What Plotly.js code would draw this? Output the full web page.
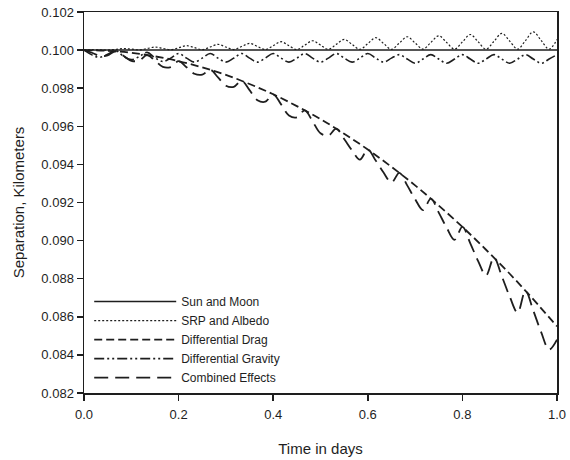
<!DOCTYPE html>
<html>
<head>
<meta charset="utf-8">
<script src="https://cdn.plot.ly/plotly-3.0.1.min.js"></script>
<style>html,body{margin:0;padding:0;background:#fff}#chart{width:570px;height:460px}</style>
</head>
<body>
<div id="chart"></div>
<script>
// Time samples (days) for oscillating series
const timeFine = [0,0.0167,0.0333,0.05,0.0667,0.0833,0.1,0.1167,0.1333,0.15,0.1667,0.1833,0.2,0.2167,0.2333,0.25,0.2667,0.2833,0.3,0.3167,0.3333,0.35,0.3667,0.3833,0.4,0.4167,0.4333,0.45,0.4667,0.4833,0.5,0.5167,0.5333,0.55,0.5667,0.5833,0.6,0.6167,0.6333,0.65,0.6667,0.6833,0.7,0.7167,0.7333,0.75,0.7667,0.7833,0.8,0.8167,0.8333,0.85,0.8667,0.8833,0.9,0.9167,0.9333,0.95,0.9667,0.9833,1.0];
const timeCoarse = [0,0.05,0.1,0.15,0.2,0.25,0.3,0.35,0.4,0.45,0.5,0.55,0.6,0.65,0.7,0.75,0.8,0.85,0.9,0.95,1.0];
const timeEnds = [0, 1.0];

const sunMoon = [0.1000, 0.1000];
const srpAlbedo = [0.10000,0.10002,0.10001,0.10000,0.10004,0.10008,0.10005,0.10001,0.10008,0.10016,0.10009,0.10002,0.10012,0.10023,0.10013,0.10002,0.10016,0.10030,0.10016,0.10003,0.10019,0.10035,0.10019,0.10003,0.10023,0.10044,0.10023,0.10003,0.10026,0.10049,0.10026,0.10004,0.10030,0.10056,0.10030,0.10004,0.10034,0.10065,0.10035,0.10004,0.10037,0.10070,0.10037,0.10005,0.10040,0.10075,0.10040,0.10005,0.10043,0.10082,0.10044,0.10005,0.10046,0.10088,0.10047,0.10005,0.10050,0.10096,0.10050,0.10005,0.10055];
const diffDrag = [0.10000,0.09996,0.09986,0.09967,0.09942,0.09909,0.09870,0.09822,0.09768,0.09706,0.09638,0.09561,0.09478,0.09387,0.09290,0.09184,0.09072,0.08952,0.08826,0.08691,0.08550];
const diffGravity = [0.10000,0.09975,0.09962,0.09978,0.09998,0.09968,0.09950,0.09966,0.09988,0.09960,0.09940,0.09958,0.09982,0.09958,0.09937,0.09958,0.09982,0.09958,0.09937,0.09958,0.09982,0.09958,0.09937,0.09958,0.09982,0.09958,0.09937,0.09958,0.09982,0.09958,0.09937,0.09958,0.09982,0.09958,0.09937,0.09958,0.09982,0.09958,0.09937,0.09958,0.09976,0.09953,0.09931,0.09953,0.09976,0.09953,0.09931,0.09953,0.09976,0.09953,0.09931,0.09953,0.09976,0.09953,0.09931,0.09953,0.09976,0.09953,0.09931,0.09953,0.09976];
const combined = [0.10000,0.09986,0.09970,0.09972,0.09994,0.09970,0.09944,0.09945,0.09974,0.09945,0.09912,0.09911,0.09942,0.09910,0.09876,0.09871,0.09897,0.09857,0.09813,0.09807,0.09839,0.09790,0.09737,0.09729,0.09768,0.09715,0.09657,0.09647,0.09684,0.09626,0.09563,0.09551,0.09588,0.09533,0.09473,0.09425,0.09478,0.09420,0.09357,0.09305,0.09356,0.09290,0.09218,0.09160,0.09220,0.09147,0.09068,0.09004,0.09072,0.08986,0.08892,0.08817,0.08911,0.08813,0.08706,0.08622,0.08737,0.08632,0.08518,0.08428,0.08480];

const seriesNames = ["Sun and Moon","SRP and Albedo","Differential Drag","Differential Gravity","Combined Effects"];
const xTickVals = [0,0.2,0.4,0.6,0.8,1.0];
const yTickVals = [0.082,0.084,0.086,0.088,0.090,0.092,0.094,0.096,0.098,0.100,0.102];

const ink = '#1e1e1e';
const traces = [
  {x: timeEnds, y: sunMoon, name: seriesNames[0], mode:'lines', line:{color:ink, width:1.5}},
  {x: timeFine, y: srpAlbedo, name: seriesNames[1], mode:'lines', line:{color:ink, width:1.2, dash:'2px,2px', shape:'spline'}},
  {x: timeCoarse, y: diffDrag, name: seriesNames[2], mode:'lines', line:{color:ink, width:1.8, dash:'8px,4px', shape:'spline'}},
  {x: timeFine, y: diffGravity, name: seriesNames[3], mode:'lines', line:{color:ink, width:1.6, dash:'10px,3px,2px,3px,2px,3px', shape:'spline'}},
  {x: timeFine, y: combined, name: seriesNames[4], mode:'lines', line:{color:ink, width:1.8, dash:'14px,7px', shape:'spline'}}
];

const layout = {
  width: 570, height: 460,
  margin: {l: 84, r: 13, t: 12, b: 67},
  paper_bgcolor: '#fff', plot_bgcolor: '#fff',
  font: {family: 'Liberation Sans, Arial, sans-serif', color: ink, size: 13},
  showlegend: true,
  legend: {x: 0.011, y: 0.278, xanchor: 'left', yanchor: 'top', bgcolor: 'rgba(0,0,0,0)', borderwidth: 0,
           itemwidth: 82, font: {size: 12, color: ink}, tracegroupgap: 0},
  xaxis: {
    range: [0, 1], tickvals: xTickVals, tickformat: '.1f',
    showgrid: false, zeroline: false, showline: true, linecolor: ink, linewidth: 1.5, mirror: true,
    ticks: 'outside', ticklen: 6, tickwidth: 1.5, tickcolor: ink, ticklabelstandoff: 3,
    tickfont: {size: 13, color: ink},
    title: {text: 'Time in days', font: {size: 15, color: ink}, standoff: 22}
  },
  yaxis: {
    range: [0.082, 0.102], tickvals: yTickVals, tickformat: '.3f',
    showgrid: false, zeroline: false, showline: true, linecolor: ink, linewidth: 1.5, mirror: true,
    ticks: 'outside', ticklen: 6, tickwidth: 1.5, tickcolor: ink,
    tickfont: {size: 13, color: ink},
    title: {text: 'Separation, Kilometers', font: {size: 15, color: ink}, standoff: 13}
  }
};

Plotly.newPlot('chart', traces, layout, {displayModeBar: false, staticPlot: true});
</script>
</body>
</html>
